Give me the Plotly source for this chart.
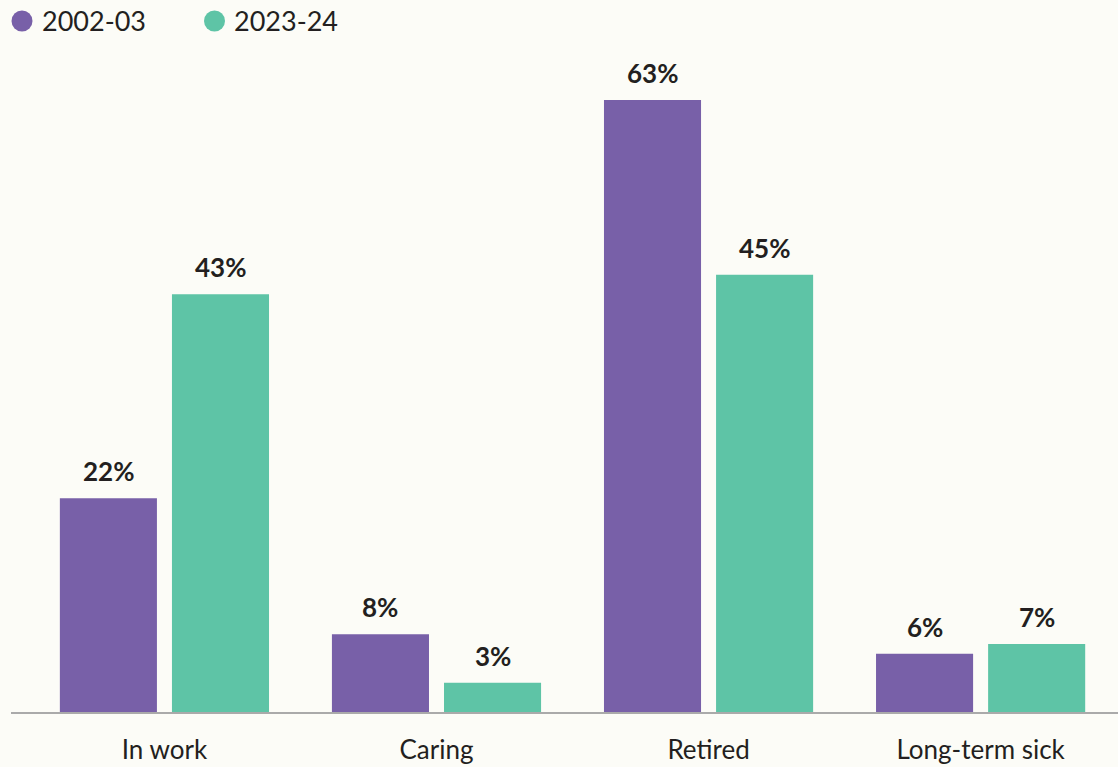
import plotly.graph_objects as go

# Economic status shares, two survey years
categories = ["In work", "Caring", "Retired", "Long-term sick"]
series_names = ["2002-03", "2023-24"]
values_2002 = [22, 8, 63, 6]
values_2023 = [43, 3, 45, 7]
colors = ["#7860a8", "#5ec4a6"]

FONT = "Lato"
TEXT = "#231f20"
BG = "#fcfcf7"

W, H = 1118, 767
ML, MR, MT, MB = 11, 0, 45, 55
plot_w = W - ML - MR
plot_h = H - MT - MB

fig = go.Figure()
for name, vals, col in zip(series_names, [values_2002, values_2023], colors):
    fig.add_trace(go.Bar(
        x=categories, y=vals, name=name, marker_color=col,
        marker_line_width=0, showlegend=False,
    ))

# value labels above each bar
half = 0.206
for k, vals in enumerate([values_2002, values_2023]):
    off = -half if k == 0 else half
    for i, v in enumerate(vals):
        fig.add_annotation(
            x=i + off, y=v, xref="x", yref="y", text=f"<b>{v}%</b>",
            showarrow=False, yanchor="bottom", yshift=9,
            font=dict(family=FONT, size=26, color=TEXT),
        )

# legend: coloured dots with series names
legend_items = [(22, 40), (214.5, 232)]
for (cx, tx), name, col in zip(legend_items, series_names, colors):
    fig.add_shape(
        type="circle", xref="paper", yref="paper",
        xsizemode="pixel", ysizemode="pixel",
        xanchor=(cx - ML) / plot_w, yanchor=(H - MB - 21) / plot_h,
        x0=-10.5, x1=10.5, y0=-10.5, y1=10.5,
        fillcolor=col, line_width=0,
    )
    fig.add_annotation(
        x=(tx - ML) / plot_w, y=(H - MB - 21) / plot_h, xref="paper", yref="paper",
        text=name, showarrow=False, xanchor="left", yanchor="middle",
        font=dict(family=FONT, size=27, color=TEXT),
    )

fig.update_layout(
    width=W, height=H,
    margin=dict(l=ML, r=MR, t=MT, b=MB),
    paper_bgcolor=BG, plot_bgcolor=BG,
    barmode="group", bargap=0.176, bargroupgap=0.134,
    font=dict(family=FONT, color=TEXT),
    xaxis=dict(
        range=[-0.564, 3.505], showline=True, linecolor="#aaaaaa", linewidth=2,
        ticks="", showgrid=False, tickfont=dict(family=FONT, size=26, color=TEXT),
        ticklabelstandoff=14,
    ),
    yaxis=dict(range=[0, 68.66], visible=False, showgrid=False, zeroline=False),
)

fig.write_html("out.html")
